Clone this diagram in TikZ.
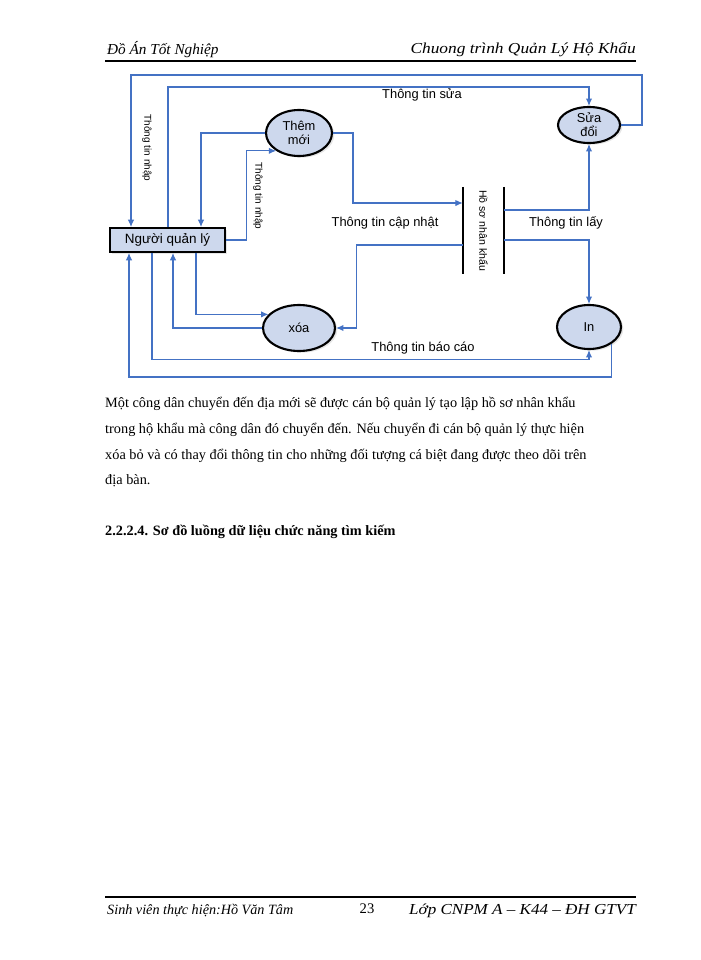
\documentclass[tikz,border=0pt]{standalone}
\usepackage{fontspec}
\setmainfont{Liberation Serif}
\newfontfamily\diafont{Liberation Sans}
\usetikzlibrary{arrows.meta, shapes.geometric, shadows}
\definecolor{flowblue}{RGB}{68,114,196}
\definecolor{procfill}{RGB}{205,216,237}
\tikzset{
    procnode/.style={ellipse, draw, line width=1.8pt, fill=procfill, inner sep=0pt, align=center, font=\diafont\fontsize{11}{12}\selectfont,
        drop shadow={opacity=0.2, shadow xshift=0.7mm, shadow yshift=-0.5mm}},
    entnode/.style={rectangle, draw, line width=1.6pt, fill=procfill, minimum width=34.5mm, minimum height=7.2mm, font=\diafont\fontsize{11.5}{13}\selectfont,
        drop shadow={opacity=0.2, shadow xshift=0.6mm, shadow yshift=-0.5mm}},
    storenode/.style={rectangle, inner sep=0pt, minimum width=12.3mm, minimum height=26.1mm, font=\diafont\fontsize{9}{10}\selectfont},
    storeline/.style={line width=1.6pt},
    flow/.style={draw=flowblue, line width=0.9pt, -{Latex[length=2.2mm, width=1.9mm]}},
    flowlabel/.style={font=\diafont\fontsize{11}{12}\selectfont},
    sidelabel/.style={font=\diafont\fontsize{8.5}{10}\selectfont, rotate=-90},
    bodyline/.style={anchor=west, inner sep=0pt, font=\fontsize{12.2}{15}\selectfont},
    pagehead/.style={inner sep=0pt, font=\itshape\fontsize{13}{15}\selectfont},
}

\begin{document}
\begin{tikzpicture}[x=0.3mm, y=-0.3mm]
    \useasboundingbox (0,0) rectangle (700,960);
    % header and footer
    \node[pagehead, anchor=west] (headl) at (107,50) {Đồ Án Tốt Nghiệp};
    \node[pagehead, anchor=east] (headr) at (636,50) {\addfontfeature{FakeStretch=1.14}Chuong trình Quản Lý Hộ Khẩu};
    \draw[line width=1.2pt] (105,61) -- (636,61);
    \draw[line width=1pt] (105,897) -- (636,897);
    \node[pagehead, anchor=west, font=\itshape\fontsize{12.1}{15}\selectfont] (footl) at (107,911) {Sinh viên thực hiện:Hồ Văn Tâm};
    \node[inner sep=0pt, font=\fontsize{12.5}{15}\selectfont] (pageno) at (367,909) {23};
    \node[pagehead, anchor=east] (footr) at (636,911) {\addfontfeature{FakeStretch=1.12}Lớp CNPM A – K44 – ĐH GTVT};

    % processes, entity and store
    \node[entnode] (nql) at (167.5,240) {Người quản lý};
    \node[procnode, minimum width=19.8mm, minimum height=13.8mm] (them) at (299,133) {Thêm\\mới};
    \node[procnode, minimum width=18.6mm, minimum height=10.8mm] (sua) at (589,125) {Sửa\\đổi};
    \node[procnode, minimum width=21.6mm, minimum height=13.8mm] (xoa) at (299,328) {xóa};
    \node[procnode, minimum width=19.2mm, minimum height=13.2mm] (in) at (589,327) {In};
    \node[storenode] (hoso) at (483.5,230.5) {\rotatebox{-90}{Hồ sơ nhân khẩu}};
    \draw[storeline] (hoso.north west) -- (hoso.south west);
    \draw[storeline] (hoso.north east) -- (hoso.south east);

    % flows
    \draw[flow] (sua.east) -| (642,75) -| (nql.north -| 131,0);
    \draw[flow] (nql.north -| 168,0) |- (sua.north |- 0,87) -- (sua.north);
    \draw[flow] (them.west) -| (nql.north -| 201,0);
    \draw[flow] (nql.east) -| ([xshift=-9mm]them.218) -- (them.218);
    \draw[flow] (them.east) -| (353,203) -- (hoso.west |- 0,203);
    \draw[flow] (hoso.west |- 0,245) -| ([xshift=6mm]xoa.east) -- (xoa.east);
    \draw[flow] (hoso.east |- 0,210) -| (sua.south);
    \draw[flow] (hoso.east |- 0,240) -| (in.north);
    \draw[flow] (nql.south -| 196,0) |- (xoa.156);
    \draw[flow] (xoa.west) -| (nql.south -| 173,0);
    \draw[flow] (nql.south -| 152,0) |- ([yshift=-2.7mm]in.south) -- (in.south);
    \draw[flow] (in.324) |- (129,377) -- (nql.south -| 129,0);

    % flow labels
    \node[sidelabel] (lnhap1) at (147,148) {Thông tin nhập};
    \node[sidelabel] (lnhap2) at (258,196) {Thông tin nhập};
    \node[flowlabel] (lsua) at (422,95) {Thông tin sửa};
    \node[flowlabel] (lcapnhat) at (385,223) {Thông tin cập nhật};
    \node[flowlabel] (llay) at (566,223) {Thông tin lấy};
    \node[flowlabel] (lbaocao) at (423,348) {Thông tin báo cáo};

    % body text
    \node[bodyline] (line1) at (105,404) {Một công dân chuyển đến địa mới sẽ được cán bộ quản lý tạo lập hồ sơ nhân khẩu};
    \node[bodyline] (line2) at (105,430) {trong hộ khẩu mà công dân đó chuyển đến. Nếu chuyển đi cán bộ quản lý thực hiện};
    \node[bodyline] (line3) at (105,456) {xóa bỏ và có thay đổi thông tin cho những đối tượng cá biệt đang được theo dõi trên};
    \node[bodyline] (line4) at (105,481) {địa bàn.};
    \node[bodyline, font=\bfseries\fontsize{12.2}{15}\selectfont] (heading) at (105,532) {2.2.2.4. Sơ đồ luồng dữ liệu chức năng tìm kiếm};
\end{tikzpicture}
\end{document}
